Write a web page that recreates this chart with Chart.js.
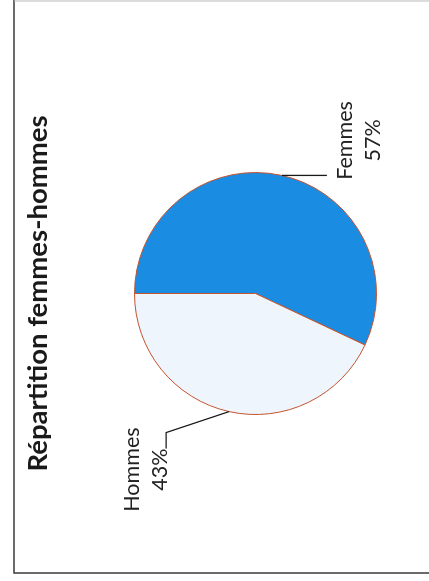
<!DOCTYPE html>
<html>
<head>
<meta charset="utf-8">
<script src="https://cdn.jsdelivr.net/npm/chart.js@4.4.1/dist/chart.umd.min.js"></script>
<style>
  html, body { margin: 0; padding: 0; background: #ffffff; width: 429px; height: 581px; overflow: hidden; }
  #wrap { position: absolute; left: 0; top: 581px; width: 581px; height: 429px;
          transform-origin: 0 0; transform: rotate(-90deg); }
  canvas { display: block; }
</style>
</head>
<body>
<div id="wrap"><canvas id="c" width="581" height="429"></canvas></div>
<script>
// ---- data ----
const chartTitle = 'Répartition femmes-hommes';
const categories = ['Femmes', 'Hommes'];
const values = [57, 43];
const valueLabels = ['57%', '43%'];
const sliceColors = ['#1a8de2', '#eef5fc'];

// label placement relative to the slice's outer mid point (layout only)
const labelLayout = [
  { leader: [[0, 45]], textX: 35, baselines: [70, 98] },
  { leader: [[-21, -63], [-37, -63]], textX: -58, baselines: [-90, -62] }
];

const annotPlugin = {
  id: 'annot',
  afterDraw(chart) {
    const ctx = chart.ctx;
    const W = chart.width, H = chart.height;
    ctx.save();
    // frame (scanned box)
    ctx.strokeStyle = '#3a3a3a';
    ctx.lineWidth = 1.5;
    ctx.beginPath();
    ctx.moveTo(8, H); ctx.lineTo(8, 14); ctx.lineTo(W, 14);
    ctx.stroke();
    ctx.strokeStyle = '#b8b8b8';
    ctx.lineWidth = 1;
    ctx.beginPath();
    ctx.moveTo(W - 1, 14); ctx.lineTo(W - 1, H);
    ctx.stroke();

    // title
    ctx.fillStyle = '#1a1a1a';
    ctx.font = '700 27.5px Lato';
    ctx.textAlign = 'center';
    ctx.textBaseline = 'alphabetic';
    ctx.fillText(chartTitle, 287.5, 47);

    // data labels with leader lines
    const meta = chart.getDatasetMeta(0);
    meta.data.forEach((arc, i) => {
      const p = arc.getProps(['x', 'y', 'startAngle', 'endAngle', 'outerRadius'], true);
      const mid = (p.startAngle + p.endAngle) / 2;
      const ex = p.x + Math.cos(mid) * p.outerRadius;
      const ey = p.y + Math.sin(mid) * p.outerRadius;
      const L = labelLayout[i];
      ctx.strokeStyle = '#1a1a1a';
      ctx.lineWidth = 1.3;
      ctx.beginPath();
      ctx.moveTo(ex, ey);
      L.leader.forEach(([dx, dy]) => ctx.lineTo(ex + dx, ey + dy));
      ctx.stroke();
      ctx.fillStyle = '#222222';
      ctx.font = '400 21.5px Lato';
      ctx.textAlign = 'center';
      ctx.fillText(categories[i], ex + L.textX, ey + L.baselines[0]);
      ctx.fillText(valueLabels[i], ex + L.textX, ey + L.baselines[1]);
    });
    ctx.restore();
  }
};

new Chart(document.getElementById('c'), {
  type: 'pie',
  data: {
    labels: categories,
    datasets: [{
      data: values,
      backgroundColor: sliceColors,
      borderColor: '#c4532e',
      borderWidth: 1
    }]
  },
  options: {
    responsive: false,
    animation: false,
    devicePixelRatio: 1,
    rotation: 0,
    layout: { padding: { left: 166, right: 172, top: 134, bottom: 52 } },
    plugins: {
      legend: { display: false },
      title: { display: false },
      tooltip: { enabled: false }
    }
  },
  plugins: [annotPlugin]
});
</script>
</body>
</html>
